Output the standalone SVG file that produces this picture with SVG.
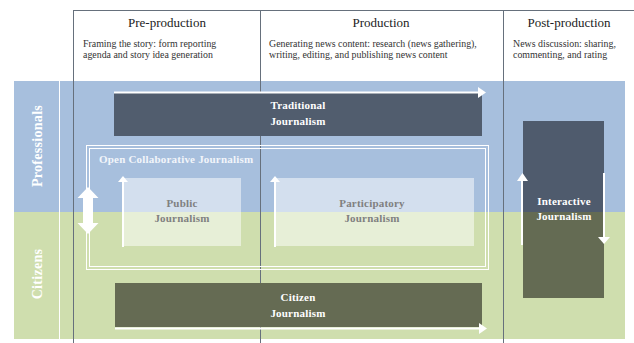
<svg xmlns="http://www.w3.org/2000/svg" width="634" height="343" viewBox="0 0 634 343">
<style>
text{font-family:"Liberation Serif","Times New Roman",serif;}
.hd{font-size:13px;fill:#222;text-anchor:middle;}
.ds{font-size:9.9px;fill:#333;}
.wt{font-size:11px;font-weight:bold;fill:#fff;text-anchor:middle;letter-spacing:0.2px;}
.gt{font-size:11px;font-weight:bold;fill:#808080;text-anchor:middle;letter-spacing:0.2px;}
.lb{font-size:14px;font-weight:bold;fill:#fff;text-anchor:middle;letter-spacing:0.3px;}
.wl{stroke:#fff;fill:none;}
.grid{stroke:#66707c;stroke-width:1;}
.light{fill:#fff;fill-opacity:0.5;}
</style>
<rect width="634" height="343" fill="#fff"/>
<g id="bands">
<rect x="14" y="81" width="611" height="131" fill="#a7bfdd"/>
<rect x="14" y="212" width="611" height="127" fill="#cfdeae"/>
<line x1="59.5" y1="81" x2="59.5" y2="339" class="wl" stroke-width="1"/>
</g>
<g id="grid">
<line x1="73.5" y1="10.5" x2="634" y2="10.5" class="grid"/>
<line x1="73.5" y1="10" x2="73.5" y2="343" class="grid"/>
<line x1="260.5" y1="10" x2="260.5" y2="343" class="grid"/>
<line x1="503.5" y1="10" x2="503.5" y2="343" class="grid"/>
</g>
<g id="headers">
<text class="hd" x="167" y="27">Pre-production</text>
<text class="ds" x="83" y="47">Framing the story: form reporting</text>
<text class="ds" x="83" y="58">agenda and story idea generation</text>
<text class="hd" x="381" y="27">Production</text>
<text class="ds" x="269" y="47">Generating news content: research (news gathering),</text>
<text class="ds" x="269" y="58">writing, editing, and publishing news content</text>
<text class="hd" x="569" y="27">Post-production</text>
<text class="ds" x="513" y="47">News discussion:  sharing,</text>
<text class="ds" x="513" y="58">commenting, and rating</text>
</g>
<g id="row-labels">
<text class="lb" transform="translate(41.5,146) rotate(-90)">Professionals</text>
<text class="lb" transform="translate(41.5,274) rotate(-90)">Citizens</text>
</g>
<g id="traditional">
<rect x="114" y="93" width="368" height="43" fill="#515d6e"/>
<text class="wt" x="298" y="109">Traditional</text>
<text class="wt" x="298" y="125">Journalism</text>
</g>
<g id="open-collaborative">
<rect x="86.5" y="145.5" width="402" height="124" class="wl" stroke-width="1"/>
<rect x="89.5" y="148.5" width="396" height="118" class="wl" stroke-width="1"/>
<text x="99" y="163" font-size="11" font-weight="bold" fill="#f2f5fa" letter-spacing="0.2">Open Collaborative Journalism</text>
</g>
<g id="public">
<rect x="124" y="178" width="117" height="68" class="light"/>
<text class="gt" x="182" y="207">Public</text>
<text class="gt" x="182" y="222">Journalism</text>
</g>
<g id="participatory">
<rect x="276" y="178" width="198" height="68" class="light"/>
<text class="gt" x="372" y="207">Participatory</text>
<text class="gt" x="372" y="222">Journalism</text>
</g>
<g id="interactive">
<rect x="523" y="121" width="81" height="91" fill="#4f5b6d"/>
<rect x="523" y="212" width="81" height="86" fill="#646b53"/>
<text class="wt" x="564" y="205">Interactive</text>
<text class="wt" x="564" y="220">Journalism</text>
</g>
<g id="citizen">
<rect x="115" y="283" width="367" height="44" fill="#656b53"/>
<text class="wt" x="298" y="301">Citizen</text>
<text class="wt" x="298" y="317">Journalism</text>
</g>
<g id="connectors">
<line x1="114" y1="92.5" x2="479" y2="92.5" stroke="#fff" stroke-width="2"/>
<path d="M478,87 L486,92.5 L478,98 Z" fill="#fff"/>
<line x1="115" y1="328.5" x2="479" y2="328.5" stroke="#fff" stroke-width="2"/>
<path d="M479,323 L487,328.5 L479,334 Z" fill="#fff"/>
<line x1="123" y1="247" x2="123" y2="182" stroke="#fff" stroke-width="2"/>
<path d="M118,182 L123,176 L128,182 Z" fill="#fff"/>
<line x1="275" y1="247" x2="275" y2="182" stroke="#fff" stroke-width="2"/>
<path d="M270,182 L275,176 L280,182 Z" fill="#fff"/>
<line x1="522" y1="245" x2="522" y2="180" stroke="#fff" stroke-width="2"/>
<path d="M517,181 L522.5,173 L528,181 Z" fill="#fff"/>
<line x1="604" y1="173" x2="604" y2="238" stroke="#fff" stroke-width="2"/>
<path d="M598,237 L604,244 L610,237 Z" fill="#fff"/>
<path d="M88,187 L98.5,198 L93,198 L93,223 L98.5,223 L88,234 L77.5,223 L83,223 L83,198 L77.5,198 Z" fill="#fff"/>
</g>
</svg>
